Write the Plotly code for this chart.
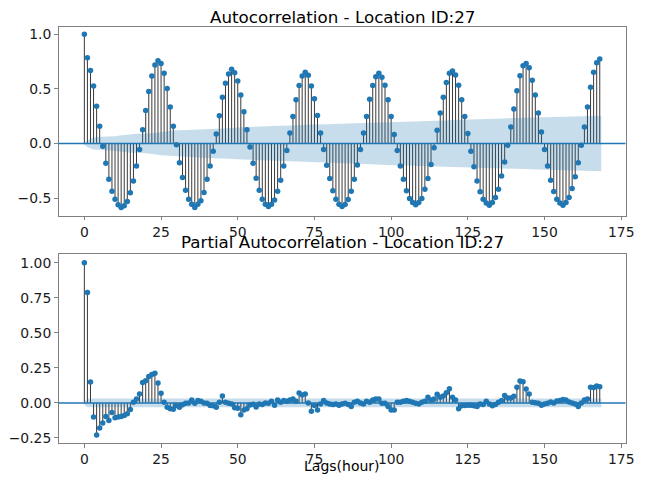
import numpy as np
import plotly.graph_objects as go

lags = list(range(169))

acf_vals = [
    1.0, 0.785, 0.667, 0.527, 0.34, 0.157, -0.024, -0.18, -0.327, -0.436, -0.51, -0.56,
    -0.585, -0.57, -0.53, -0.45, -0.343, -0.206, -0.055, 0.127, 0.303, 0.476, 0.618, 0.718,
    0.757, 0.733, 0.642, 0.503, 0.333, 0.157, -0.012, -0.176, -0.312, -0.427, -0.51, -0.555,
    -0.585, -0.555, -0.524, -0.448, -0.327, -0.206, -0.07, 0.088, 0.255, 0.424, 0.551, 0.636,
    0.679, 0.648, 0.573, 0.443, 0.291, 0.127, -0.033, -0.18, -0.318, -0.427, -0.51, -0.555,
    -0.576, -0.555, -0.518, -0.436, -0.336, -0.206, -0.064, 0.097, 0.248, 0.4, 0.53, 0.618,
    0.652, 0.624, 0.527, 0.409, 0.257, 0.097, -0.055, -0.2, -0.321, -0.433, -0.51, -0.555,
    -0.576, -0.558, -0.512, -0.436, -0.327, -0.197, -0.055, 0.097, 0.248, 0.406, 0.53, 0.612,
    0.642, 0.606, 0.533, 0.4, 0.248, 0.082, -0.064, -0.206, -0.327, -0.433, -0.503, -0.539,
    -0.56, -0.539, -0.503, -0.418, -0.321, -0.191, -0.039, 0.121, 0.279, 0.424, 0.558, 0.642,
    0.664, 0.627, 0.533, 0.4, 0.248, 0.091, -0.07, -0.212, -0.342, -0.442, -0.509, -0.545,
    -0.564, -0.539, -0.494, -0.418, -0.297, -0.17, -0.015, 0.152, 0.315, 0.482, 0.621, 0.712,
    0.733, 0.694, 0.579, 0.445, 0.279, 0.106, -0.055, -0.206, -0.336, -0.439, -0.509, -0.545,
    -0.564, -0.539, -0.494, -0.412, -0.303, -0.176, -0.015, 0.152, 0.333, 0.515, 0.652, 0.74,
    0.773,
]

pacf_vals = [
    1.0, 0.788, 0.149, -0.101, -0.229, -0.179, -0.144, -0.097, -0.125, -0.068, -0.106, -0.101,
    -0.097, -0.09, -0.078, -0.047, 0.005, 0.028, 0.064, 0.146, 0.158, 0.189, 0.203, 0.212,
    0.142, 0.068, 0.005, -0.031, -0.042, -0.045, -0.019, -0.031, -0.014, -0.002, 0.0, 0.021,
    -0.002, 0.017, 0.012, 0.0, -0.002, -0.019, -0.021, -0.031, 0.005, 0.05, 0.005, -0.002,
    -0.007, -0.035, -0.038, -0.085, -0.05, -0.042, -0.015, -0.01, -0.03, -0.007, -0.012, 0.0,
    -0.002, 0.012, -0.017, 0.021, 0.005, 0.017, 0.012, 0.021, 0.028, 0.012, 0.071, 0.057,
    0.064, 0.0, -0.059, -0.019, -0.05, -0.007, 0.017, 0.0, -0.007, -0.012, -0.007, -0.017,
    -0.007, -0.002, -0.012, -0.026, 0.005, 0.012, 0.0, -0.007, 0.012, 0.005, 0.021, 0.028,
    0.028, -0.002, -0.002, -0.026, -0.05, -0.05, 0.005, 0.005, 0.012, 0.017, 0.012, 0.005,
    -0.002, -0.007, 0.005, 0.012, 0.04, 0.021, 0.028, 0.061, 0.04, 0.05, 0.073, 0.101,
    0.04, 0.021, -0.042, -0.021, -0.019, -0.017, -0.017, -0.021, -0.026, -0.007, -0.012, 0.012,
    -0.007, -0.021, -0.012, 0.005, 0.017, 0.052, 0.035, 0.035, 0.047, 0.111, 0.156, 0.151,
    0.099, 0.064, 0.005, 0.002, -0.002, -0.017, -0.007, -0.002, 0.007, 0.0, 0.014, 0.017,
    0.024, 0.021, 0.007, 0.0, -0.007, -0.026, 0.0, 0.021, 0.028, 0.111, 0.109, 0.12,
    0.116,
]

if len(acf_vals) != 169 or len(pacf_vals) != 169:
    raise ValueError(f"lengths {len(acf_vals)} {len(pacf_vals)}")

nobs = 4000
x_ticks = [0, 25, 50, 75, 100, 125, 150, 175]

acf_arr = np.array(acf_vals)
var_acf = np.zeros(169)
var_acf[1:] = 1.0 / nobs
var_acf[2:] *= 1 + 2 * np.cumsum(acf_arr[1:-1] ** 2)
acf_band = 1.96 * np.sqrt(var_acf)
pacf_band = np.full(169, 1.96 / np.sqrt(nobs))
pacf_band[0] = 0.0

fill_x = np.array(lags, dtype=float)
fill_x[0] -= 0.5
fill_x[-1] += 0.5

BLUE = "#1f77b4"
FILL = "rgba(31,119,180,0.25)"
FONT = "DejaVu Sans"

# page offset (browser body margin) -> figure fills the rest of the window
OFF = 8
W, H = 642, 472


def px(xp):
    return (xp - OFF) / W


def py(yp):
    return 1 - (yp - OFF) / H


fig = go.Figure()


def add_panel(vals, band, xa, ya):
    sx, sy = [], []
    for l, v in zip(lags, vals):
        sx += [l, l, None]
        sy += [0, v, None]
    fig.add_trace(go.Scatter(x=sx, y=sy, mode="lines", line=dict(color="#222222", width=0.9),
                             xaxis=xa, yaxis=ya, hoverinfo="skip", showlegend=False))
    fig.add_trace(go.Scatter(x=lags, y=vals, mode="markers",
                             marker=dict(color=BLUE, size=5.5, line=dict(width=0)),
                             xaxis=xa, yaxis=ya, showlegend=False))
    fx = list(fill_x) + list(fill_x[::-1])
    fy = list(band) + list(-band[::-1])
    fig.add_trace(go.Scatter(x=fx, y=fy, mode="lines", fill="toself", fillcolor=FILL,
                             line=dict(width=0), xaxis=xa, yaxis=ya, hoverinfo="skip",
                             showlegend=False))


add_panel(acf_vals, acf_band, "x", "y")
add_panel(pacf_vals, pacf_band, "x2", "y2")

axis_common = dict(showgrid=False, zeroline=False, showline=True, mirror=True,
                   linecolor="#808080", linewidth=1, ticks="outside", ticklen=3.5,
                   tickcolor="#808080", tickfont=dict(family=FONT, size=13.9, color="#1a1a1a"))

xdom = [px(59.3), px(634.3)]
fig.update_layout(
    width=W, height=H, margin=dict(l=0, r=0, t=0, b=0),
    paper_bgcolor="white", plot_bgcolor="white", showlegend=False,
    xaxis=dict(domain=xdom, anchor="y", range=[-8.4, 176.4], tickvals=x_ticks, **axis_common),
    yaxis=dict(domain=[py(217.3), py(26.7)], anchor="x", range=[-0.663, 1.07],
               tickvals=[-0.5, 0.0, 0.5, 1.0], tickformat=".1f", **axis_common),
    xaxis2=dict(domain=xdom, anchor="y2", range=[-8.4, 176.4], tickvals=x_ticks, **axis_common),
    yaxis2=dict(domain=[py(446), py(255.7)], anchor="x2", range=[-0.2875, 1.061],
                tickvals=[-0.25, 0.0, 0.25, 0.5, 0.75, 1.0], tickformat=".2f", **axis_common),
)

for ya, xa in [("y", "x"), ("y2", "x2")]:
    fig.add_shape(type="line", xref=f"{xa} domain", yref=ya, x0=0, x1=1, y0=0, y1=0,
                  line=dict(color=BLUE, width=1.5), layer="above")

cx = (xdom[0] + xdom[1]) / 2
fig.add_annotation(text="Autocorrelation - Location ID:27", xref="paper", yref="paper",
                   x=cx, y=py(17), xanchor="center", yanchor="middle", showarrow=False,
                   font=dict(family=FONT, size=16.7, color="black"))
fig.add_annotation(text="Partial Autocorrelation - Location ID:27", xref="paper", yref="paper",
                   x=cx, y=py(243.5), xanchor="center", yanchor="middle", showarrow=False,
                   font=dict(family=FONT, size=16.7, color="black"))
fig.add_annotation(text="Lags(hour)", xref="paper", yref="paper",
                   x=cx, y=py(469), xanchor="center", yanchor="middle", showarrow=False,
                   font=dict(family=FONT, size=14, color="black"))

fig.write_html("out.html")
